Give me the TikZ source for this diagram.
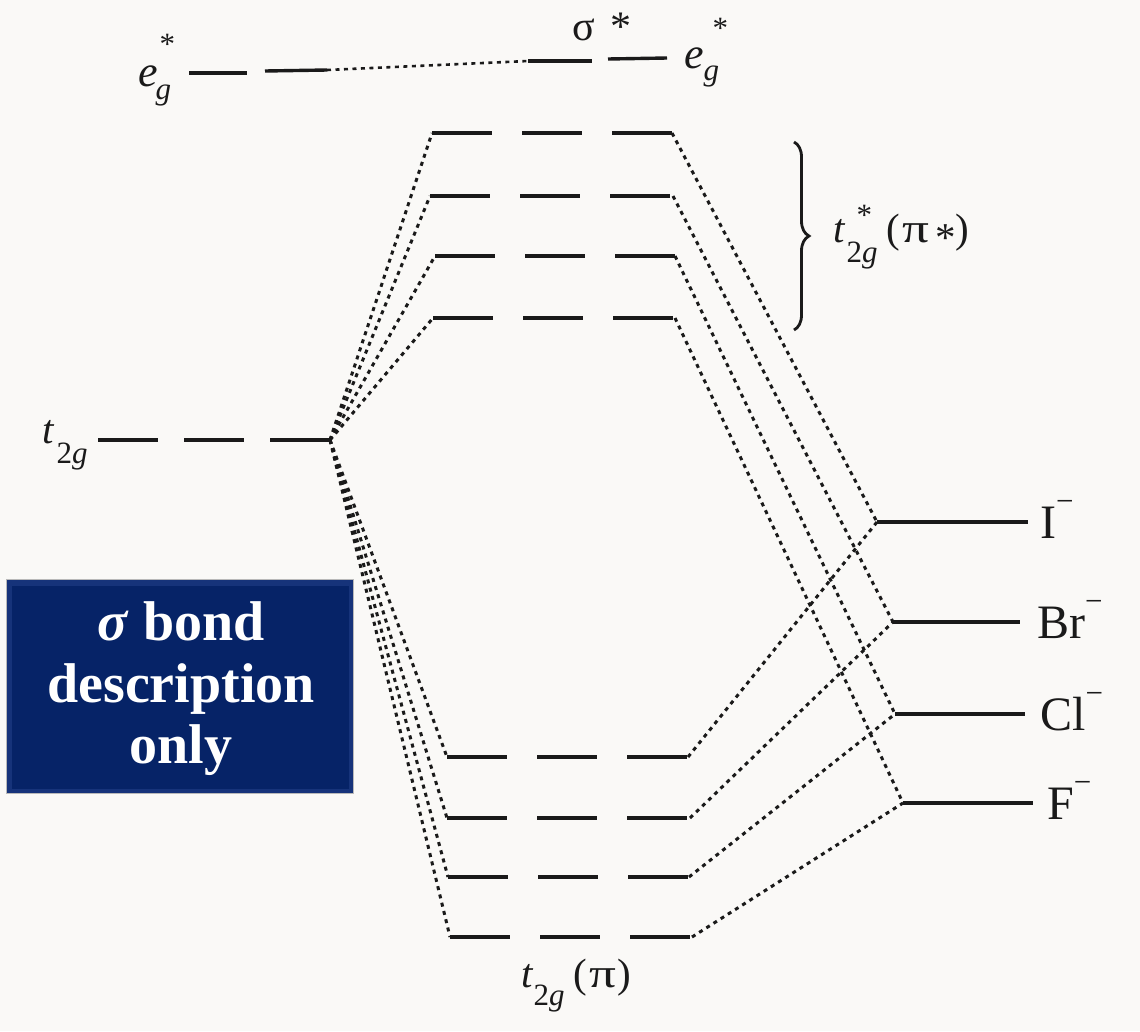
\documentclass[tikz,border=0pt]{standalone}
\usepackage{fontspec}
\setmainfont{Liberation Serif}
\usetikzlibrary{decorations.pathreplacing}
\definecolor{ink}{HTML}{1A1A1A}
\definecolor{paper}{HTML}{FAF9F7}
\definecolor{navy}{HTML}{062367}
\definecolor{navyedge}{HTML}{16337A}
\newcommand{\subfont}{\fontsize{31}{31}\selectfont}
\newcommand{\widepi}{\scalebox{1.3}[1]{π}}
\begin{document}
\begin{tikzpicture}[x=1pt,y=-1pt,
  lvl/.style={draw=ink, line width=3.6pt, dash pattern=on 60pt off 30pt},
  tlvl/.style={draw=ink, line width=3.4pt, dash pattern=on 60pt off 26pt},
  solidlvl/.style={draw=ink, line width=3.4pt},
  conn/.style={draw=ink, line width=3pt, dash pattern=on 4pt off 4.5pt},
  lab/.style={inner sep=0pt, text=ink, font=\fontsize{41}{45}\selectfont},
  liglab/.style={inner sep=0pt, text=ink, font=\fontsize{48}{52}\selectfont},
  boxtext/.style={inner sep=0pt, text=white, font=\fontsize{56}{61}\selectfont\bfseries}]
\useasboundingbox (0,0) rectangle (1140,1031);
\fill[paper] (0,0) rectangle (1140,1031);

% ---- e_g* level
\coordinate (E1a) at (189,73); \coordinate (E1b) at (247,73);
\coordinate (E2a) at (265,71); \coordinate (E2b) at (327,70);
\coordinate (E3a) at (528,61); \coordinate (E3b) at (592,61);
\coordinate (E4a) at (608,59); \coordinate (E4b) at (667,58);
\draw[solidlvl] (E1a) -- (E1b);
\draw[solidlvl] (E2a) -- (E2b);
\draw[conn, line width=2.6pt] (E2b) -- (E3a);
\draw[solidlvl] (E3a) -- (E3b);
\draw[solidlvl] (E4a) -- (E4b);
\node[lab, anchor=base west, font=\fontsize{44}{48}\selectfont] (egL) at (138,86)
  {\itshape e\makebox[0pt][l]{\hspace{2pt}\raisebox{32pt}{\subfont\upshape *}}\hspace{-2pt}\raisebox{-13pt}{\subfont g}};
\node[lab, anchor=base west, font=\fontsize{44}{48}\selectfont] (egR) at (684,68)
  {\itshape e\makebox[0pt][l]{\hspace{9pt}\raisebox{30pt}{\subfont\upshape *}}\raisebox{-12pt}{\subfont g}};
\node[lab, anchor=base west, font=\fontsize{42}{46}\selectfont] (sig) at (572,40) {σ\hspace{5pt} *};

% ---- metal t2g
\coordinate (T0) at (98,440);
\coordinate (T) at (330,440);
\draw[tlvl] (T0) -- (T);
\node[lab, anchor=base west] (t2gL) at (42,443)
  {\itshape t\hspace{3pt}\raisebox{-20pt}{\subfont\upshape 2\itshape g}};

% ---- t2g* levels
\coordinate (A1L) at (432,133); \coordinate (A1R) at (672,133);
\coordinate (A2L) at (430,196); \coordinate (A2R) at (673,196);
\coordinate (A3L) at (435,256); \coordinate (A3R) at (675,256);
\coordinate (A4L) at (433,318); \coordinate (A4R) at (675,318);
\foreach \i in {1,...,4} { \draw[lvl] (A\i L) -- (A\i R); }

% ---- t2g(pi) levels
\coordinate (B1L) at (447,757); \coordinate (B1R) at (688,757);
\coordinate (B2L) at (447,818); \coordinate (B2R) at (690,818);
\coordinate (B3L) at (448,877); \coordinate (B3R) at (689,877);
\coordinate (B4L) at (450,937); \coordinate (B4R) at (692,937);
\foreach \i in {1,...,4} { \draw[lvl] (B\i L) -- (B\i R); }

% ---- ligand levels
\coordinate (IL) at (877,522);  \coordinate (IR) at (1028,522);
\coordinate (BrL) at (893,622); \coordinate (BrR) at (1020,622);
\coordinate (ClL) at (895,714); \coordinate (ClR) at (1025,714);
\coordinate (FL) at (903,803);  \coordinate (FR) at (1033,803);
\draw[solidlvl] (IL) -- (IR);
\draw[solidlvl] (BrL) -- (BrR);
\draw[solidlvl] (ClL) -- (ClR);
\draw[solidlvl] (FL) -- (FR);
\node[liglab, anchor=base west] (labI) at (1040,538) {I\raisebox{0.55em}{\subfont −}};
\node[liglab, anchor=base west] (labBr) at (1037,638) {Br\raisebox{0.55em}{\subfont −}};
\node[liglab, anchor=base west] (labCl) at (1040,730) {Cl\raisebox{0.55em}{\subfont −}};
\node[liglab, anchor=base west] (labF) at (1047,819) {F\raisebox{0.55em}{\subfont −}};

% ---- connectors
\foreach \i in {1,...,4} {
  \draw[conn] (T) -- (A\i L);
  \draw[conn] (T) -- (B\i L);
}
\draw[conn] (A1R) -- (IL);
\draw[conn] (A2R) -- (BrL);
\draw[conn] (A3R) -- (ClL);
\draw[conn] (A4R) -- (FL);
\draw[conn] (B1R) -- (IL);
\draw[conn] (B2R) -- (BrL);
\draw[conn] (B3R) -- (ClL);
\draw[conn] (B4R) -- (FL);

% ---- brace and labels
\coordinate (BrTop) at (794,142);
\coordinate (BrBot) at (794,330);
\draw[ink, line width=2.8pt, decorate, decoration={brace, amplitude=15pt}] (BrTop) -- (BrBot);
\node[lab, anchor=base west] (tstar) at (833,242)
  {\itshape t\makebox[0pt][l]{\hspace{12pt}\raisebox{17pt}{\subfont\upshape *}}\hspace{2pt}\raisebox{-20pt}{\subfont\upshape 2\itshape g}\hspace{9pt}\upshape (\hspace{2pt}\widepi\hspace{6pt}\raisebox{-9pt}{*})};
\node[lab, anchor=base west] (tpi) at (521,987)
  {\itshape t\hspace{1pt}\raisebox{-18pt}{\subfont\upshape 2\itshape g}\hspace{9pt}\upshape (\hspace{2pt}\widepi\hspace{1pt})};

% ---- blue box
\fill[gray!55] (6,579) rectangle (354,794);
\fill[navyedge] (7,580) rectangle (353,793);
\fill[navy] (12,586) rectangle (349,789);
\node[boxtext, anchor=base] (bx1) at (181,640) {\textit{σ} bond};
\node[boxtext, anchor=base] (bx2) at (181,702) {description};
\node[boxtext, anchor=base] (bx3) at (181,763) {only};
\end{tikzpicture}
\end{document}
